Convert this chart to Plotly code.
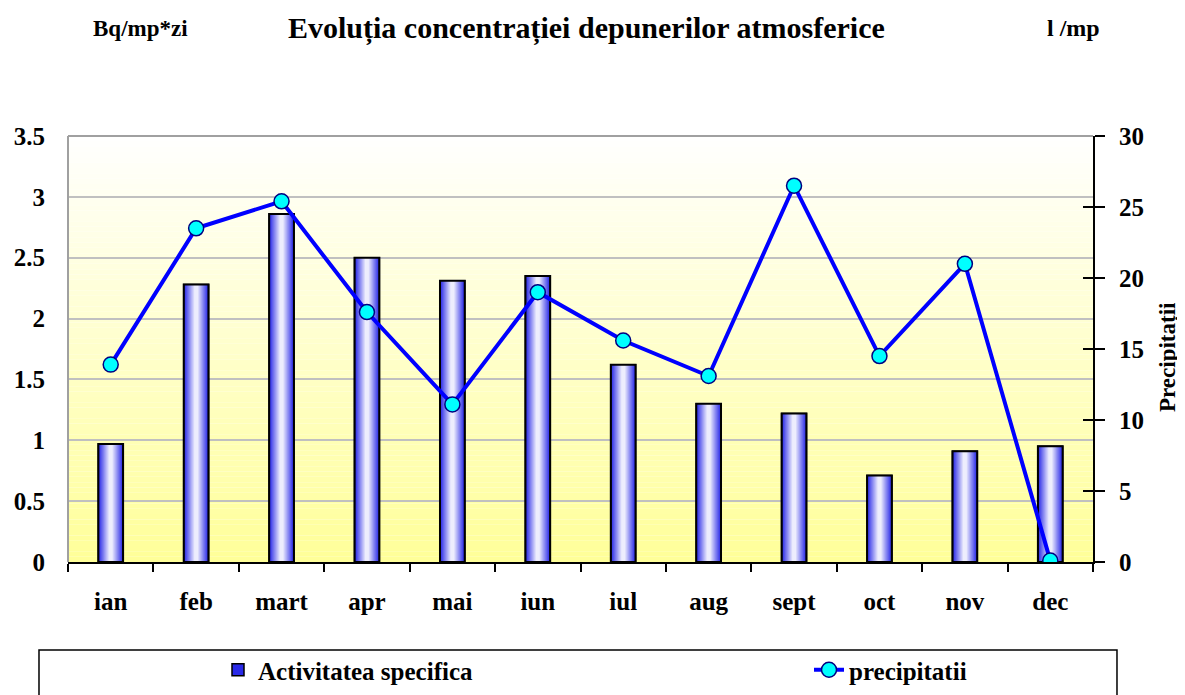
import plotly.graph_objects as go

luni = ["ian", "feb", "mart", "apr", "mai", "iun", "iul", "aug", "sept", "oct", "nov", "dec"]
activitate = [0.97, 2.28, 2.86, 2.50, 2.31, 2.35, 1.62, 1.30, 1.22, 0.71, 0.91, 0.95]
precipitatii = [13.9, 23.5, 25.4, 17.6, 11.1, 19.0, 15.6, 13.1, 26.5, 14.5, 21.0, 0.1]

FONT = "Times New Roman, Liberation Serif, serif"
BAR_W = 0.29
OFF = 8  # page body margin in the browser

fig = go.Figure()

# base bar (legend entry)
fig.add_trace(go.Bar(
    x=luni, y=activitate, width=BAR_W, name="Activitatea specifica", legend="legend",
    marker=dict(color="#2a2ae8", line=dict(color="black", width=1.5)),
    hoverinfo="skip"))

# gradient overlays (horizontal: blue edges -> white centre)
N = 12
for k in range(1, N):
    t = k / N
    w = BAR_W * (1 - t * 0.92)
    r = int(0x2a + (255 - 0x2a) * t)
    col = f"rgb({r},{r},{int(0xe8 + (255 - 0xe8) * t)})"
    fig.add_trace(go.Bar(
        x=luni, y=activitate, width=w, showlegend=False,
        marker=dict(color=col, line=dict(width=0)), hoverinfo="skip"))

# outline on top
fig.add_trace(go.Bar(
    x=luni, y=activitate, width=BAR_W, showlegend=False,
    marker=dict(color="rgba(0,0,0,0)", line=dict(color="black", width=2)),
    hoverinfo="skip"))

fig.add_trace(go.Scatter(
    x=luni, y=precipitatii, name="precipitatii", yaxis="y2", legend="legend2",
    mode="lines+markers",
    line=dict(color="#0000ff", width=4),
    marker=dict(size=15, color="#00ffff", line=dict(color="#000080", width=1.5))))

# dummy trace for crossing inner ticks on right axis
fig.add_trace(go.Scatter(x=[], y=[], yaxis="y3", showlegend=False, hoverinfo="skip"))

# gradient background bands
shapes = []
NB = 80
for i in range(NB):
    t = (i + 0.5) / NB  # 0 bottom -> 1 top
    b = int(0x99 + (255 - 0x99) * t)
    shapes.append(dict(type="rect", xref="x domain", yref="y domain",
                       x0=0, x1=1, y0=i / NB, y1=(i + 1) / NB,
                       fillcolor=f"rgb(255,255,{b})", line=dict(width=0),
                       layer="below"))
# plot-area top & left grey border
shapes.append(dict(type="line", xref="x domain", yref="y domain", x0=0, x1=1, y0=1, y1=1,
                   line=dict(color="#a0a0a0", width=2)))
shapes.append(dict(type="line", xref="x domain", yref="y domain", x0=0, x1=0, y0=0, y1=1,
                   line=dict(color="#a0a0a0", width=2)))
# legend box
shapes.append(dict(type="rect", xref="paper", yref="paper",
                   x0=-0.0283, x1=1.0234, y0=-0.2066, y1=-0.36,
                   line=dict(color="black", width=1.5), fillcolor="rgba(0,0,0,0)"))

tickfont = dict(family=FONT, size=25, color="black", weight="bold")
legfont = dict(family=FONT, size=25, color="black", weight="bold")

fig.update_layout(
    width=1185, height=695,
    margin=dict(l=68 - OFF, r=1185 - 1093 + OFF, t=136 - OFF, b=695 - 562 + OFF,
                autoexpand=False),
    paper_bgcolor="white", plot_bgcolor="rgba(0,0,0,0)",
    barmode="overlay",
    showlegend=True,
    legend=dict(orientation="h", xref="container", yref="container",
                x=(218 - OFF) / 1185, y=1 - (670 - OFF) / 695, xanchor="left", yanchor="middle",
                font=legfont, bgcolor="rgba(0,0,0,0)", borderwidth=0),
    legend2=dict(orientation="h", xref="container", yref="container",
                 x=(809 - OFF) / 1185, y=1 - (670 - OFF) / 695, xanchor="left", yanchor="middle",
                 font=legfont, bgcolor="rgba(0,0,0,0)", borderwidth=0),
    xaxis=dict(type="category", showline=True, linecolor="black", linewidth=2,
               ticks="outside", tickson="boundaries", ticklen=8, tickcolor="black",
               tickwidth=2, tickfont=tickfont, ticklabelstandoff=16, showgrid=False,
               range=[-0.5, 11.5]),
    yaxis=dict(range=[0, 3.5], dtick=0.5, showgrid=True, gridcolor="#c0c0c0", gridwidth=2,
               showline=False, ticks="", tickfont=tickfont, ticklabelstandoff=22,
               zeroline=False),
    yaxis2=dict(range=[0, 30], dtick=5, overlaying="y", side="right", showgrid=False,
                showline=True, linecolor="black", linewidth=2, ticks="outside",
                ticklen=10, tickwidth=2, tickcolor="black", tickfont=tickfont,
                ticklabelstandoff=9, zeroline=False),
    yaxis3=dict(range=[0, 30], dtick=5, overlaying="y", side="right", showgrid=False,
                showline=False, ticks="inside", ticklen=10, tickwidth=2,
                tickcolor="black", showticklabels=False, zeroline=False),
    shapes=shapes,
    annotations=[
        dict(text="Evoluția concentrației depunerilor atmosferice", xref="paper", yref="paper",
             x=0.506, y=1.2535, xanchor="center", yanchor="middle", showarrow=False,
             font=dict(family=FONT, size=30, color="black", weight="bold")),
        dict(text="Bq/mp*zi", xref="paper", yref="paper",
             x=(140 - 68) / 1025, y=1.2535, xanchor="center", yanchor="middle", showarrow=False,
             font=dict(family=FONT, size=23, color="black", weight="bold")),
        dict(text="l /mp", xref="paper", yref="paper",
             x=(1073 - 68) / 1025, y=1.2535, xanchor="center", yanchor="middle", showarrow=False,
             font=dict(family=FONT, size=24, color="black", weight="bold")),
        dict(text="Precipitații", xref="paper", yref="paper",
             x=(1168 - 68) / 1025, y=(562 - 357) / 426, xanchor="center", yanchor="middle",
             showarrow=False, textangle=-90,
             font=dict(family=FONT, size=23, color="black", weight="bold")),
    ],
)

fig.write_html("out.html")
